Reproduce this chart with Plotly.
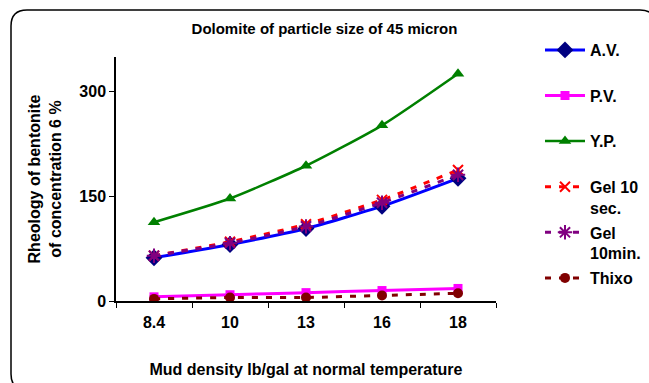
import plotly.graph_objects as go

categories = ["8.4", "10", "13", "16", "18"]
av = [62, 81, 104, 136, 176]
pv = [6, 9, 12, 15, 18]
yp = [113, 147, 194, 252, 326]
gel10s = [65, 85, 110, 145, 188]
gel10m = [65, 83, 107, 141, 181]
thixo = [3, 5, 5, 8, 11]

W, H = 649, 383
L, R, T, B = 116, 153, 57, 82
pw, ph = W - L - R, H - T - B

def px(x):
    return (x - L) / pw

def py(y):
    return (H - B - y) / ph

fig = go.Figure()
font = "Liberation Sans, Arial, sans-serif"

def add(name, vals, color, mcolor, symbol, msize, dash, width, mline=None):
    marker = dict(symbol=symbol, size=msize, color=mcolor)
    if mline:
        marker["line"] = dict(color=mcolor, width=mline)
    fig.add_trace(go.Scatter(
        x=categories, y=vals, name=name, mode="lines+markers",
        line=dict(color=color, width=width, dash=dash, shape="spline", smoothing=0.6),
        marker=marker, legendgroup=name))

add("A.V.<br> ", av, "#0000FF", "#000080", "diamond", 13, "solid", 3)
add("P.V.<br> ", pv, "#FF00FF", "#FF00FF", "square", 9, "solid", 3)
add("Y.P.<br> ", yp, "#008000", "#008000", "triangle-up", 11, "solid", 2.5)
add("Gel 10<br>sec.", gel10s, "#FF0000", "#FF0000", "x-thin-open", 10, "6px,8px", 3, mline=2)
add("Gel<br>10min.", gel10m, "#800080", "#800080", "asterisk-open", 12, "6px,8px", 3, mline=2)
add("Thixo<br> ", thixo, "#800000", "#800000", "circle", 10, "6px,8px", 3)

# rounded border
x0, y0, x1, y1, r = 11, 10, 656, 390, 16
path = (f"M {px(x0+r)},{py(y0)} L {px(x1-r)},{py(y0)} "
        f"Q {px(x1)},{py(y0)} {px(x1)},{py(y0+r)} L {px(x1)},{py(y1-r)} "
        f"Q {px(x1)},{py(y1)} {px(x1-r)},{py(y1)} L {px(x0+r)},{py(y1)} "
        f"Q {px(x0)},{py(y1)} {px(x0)},{py(y1-r)} L {px(x0)},{py(y0+r)} "
        f"Q {px(x0)},{py(y0)} {px(x0+r)},{py(y0)} Z")
fig.add_shape(type="path", xref="paper", yref="paper", path=path,
              line=dict(color="black", width=1.5), layer="below")

bold = dict(family=font, weight="bold", color="black")

fig.update_layout(
    width=W, height=H,
    margin=dict(l=L, r=R, t=T, b=B, autoexpand=False),
    paper_bgcolor="white", plot_bgcolor="white",
    font=dict(family=font, color="black", size=16, weight="bold"),
    title=dict(text="Dolomite of particle size of 45 micron",
               x=px(306), xanchor="center", y=1 - 29 / H, yanchor="middle",
               font=dict(size=15, **bold)),
    xaxis=dict(type="category", range=[-0.5, 4.5], showline=True, linecolor="black",
               linewidth=1.5, ticks="outside", tickson="boundaries", ticklen=5,
               tickcolor="black", showgrid=False, zeroline=False, automargin=False,
               tickfont=dict(size=16, **bold), ticklabelstandoff=6,
               title=dict(text="Mud density lb/gal at normal temperature",
                          font=dict(size=16, **bold), standoff=34)),
    yaxis=dict(range=[0, 350], tickvals=[0, 150, 300], showline=True, linecolor="black",
               linewidth=1.5, ticks="outside", ticklen=5, tickcolor="black",
               showgrid=False, zeroline=False, automargin=False,
               tickfont=dict(size=16, **bold),
               title=dict(text="Rheology of bentonite<br>of concentration 6 %",
                          font=dict(size=16, **bold), standoff=14)),
    legend=dict(x=px(540), y=py(33), xanchor="left", yanchor="top",
                font=dict(size=16, **bold), valign="top", tracegroupgap=1,
                itemwidth=40, bgcolor="rgba(0,0,0,0)", maxheight=380),
    showlegend=True,
)

fig.write_html("out.html")
